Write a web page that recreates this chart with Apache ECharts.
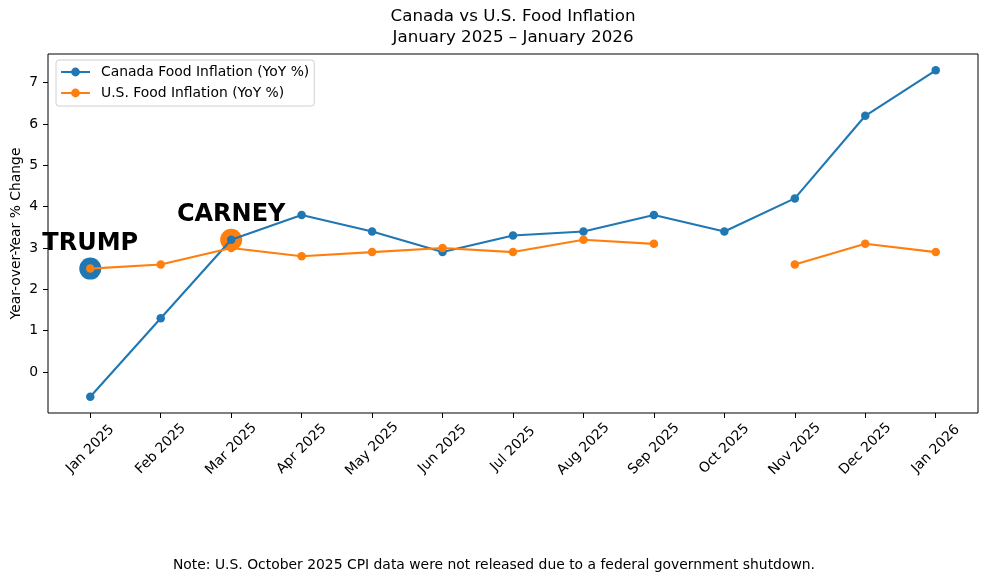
<!DOCTYPE html>
<html>
<head>
<meta charset="utf-8">
<title>Canada vs U.S. Food Inflation</title>
<script src="https://cdn.jsdelivr.net/npm/echarts@6/dist/echarts.min.js"></script>
<style>
  html, body { margin: 0; padding: 0; background: #fff; }
  #chart { width: 988px; height: 582px; }
</style>
</head>
<body>
<div id="chart"></div>
<script>
  /* ---------- 資料 ---------- */
  const MONTHS = ['Jan 2025', 'Feb 2025', 'Mar 2025', 'Apr 2025', 'May 2025', 'Jun 2025',
    'Jul 2025', 'Aug 2025', 'Sep 2025', 'Oct 2025', 'Nov 2025', 'Dec 2025', 'Jan 2026'];
  const CANADA = [-0.6, 1.3, 3.2, 3.8, 3.4, 2.9, 3.3, 3.4, 3.8, 3.4, 4.2, 6.2, 7.3];
  // 美國 2025 年 10 月資料因政府停擺未發布
  const US = [2.5, 2.6, 3.0, 2.8, 2.9, 3.0, 2.9, 3.2, 3.1, null, 2.6, 3.1, 2.9];
  const Y_TICKS = [0, 1, 2, 3, 4, 5, 6, 7];
  // 標註點：[月份索引, 數值, 文字]
  const TRUMP_MARK = [0, 2.5, 'TRUMP'];
  const CARNEY_MARK = [2, 3.2, 'CARNEY'];

  const BLUE = '#1f77b4';
  const ORANGE = '#ff7f0e';
  const FONT = 'DejaVu Sans';
  const FS = 13.9;

  function pairs(values) {
    return values.map(function (v, i) { return [i, v === null ? '-' : v]; });
  }

  function markSeries(mark, color) {
    return {
      type: 'scatter',
      z: 1,
      symbol: 'circle',
      symbolSize: 22,
      itemStyle: { color: color, opacity: 1 },
      label: {
        show: true,
        position: 'top',
        distance: 2,
        formatter: mark[2],
        color: '#000',
        fontFamily: FONT,
        fontWeight: 'bold',
        fontSize: 24
      },
      data: [[mark[0], mark[1]]]
    };
  }

  function lineSeries(name, values, color) {
    return {
      name: name,
      type: 'line',
      z: 2,
      symbol: 'circle',
      symbolSize: 8.5,
      showSymbol: true,
      lineStyle: { color: color, width: 2.1 },
      itemStyle: { color: color, borderWidth: 0, opacity: 1 },
      connectNulls: false,
      data: pairs(values)
    };
  }

  const chart = echarts.init(document.getElementById('chart'));
  chart.setOption({
    animation: false,
    backgroundColor: '#fff',
    textStyle: { fontFamily: FONT, color: '#000' },
    title: [
      {
        text: 'Canada vs U.S. Food Inflation\nJanuary 2025 – January 2026',
        left: 513,
        textAlign: 'center',
        top: 6,
        padding: 0,
        textStyle: { fontFamily: FONT, fontWeight: 'normal', fontSize: 16.7, lineHeight: 21, color: '#000' }
      },
      {
        text: 'Note: U.S. October 2025 CPI data were not released due to a federal government shutdown.',
        left: 'center',
        top: 558,
        padding: 0,
        textStyle: { fontFamily: FONT, fontWeight: 'normal', fontSize: FS, lineHeight: 14, color: '#000' }
      }
    ],
    legend: {
      orient: 'vertical',
      left: 56,
      top: 60,
      padding: [5, 5, 6, 4],
      itemGap: 7,
      itemWidth: 29,
      itemHeight: 11,
      backgroundColor: 'rgba(255,255,255,0.8)',
      borderColor: '#d0d0d0',
      borderWidth: 1,
      borderRadius: 3,
      textStyle: { fontFamily: FONT, fontSize: FS, color: '#000', padding: [0, 0, 0, 6] },
      data: ['Canada Food Inflation (YoY %)', 'U.S. Food Inflation (YoY %)']
    },
    grid: {
      left: 48,
      right: 10,
      top: 54,
      bottom: 169,
      outerBoundsMode: 'none',
      containLabel: false,
      show: true,
      borderColor: '#000',
      borderWidth: 1
    },
    xAxis: {
      type: 'value',
      min: -0.6,
      max: 12.6,
      splitLine: { show: false },
      axisLine: { show: false, onZero: false },
      axisTick: {
        show: true,
        length: 5,
        lineStyle: { color: '#000', width: 1 },
        customValues: MONTHS.map(function (m, i) { return i; })
      },
      axisLabel: {
        rotate: 45,
        align: 'center',
        verticalAlign: 'middle',
        margin: 36,
        fontFamily: FONT,
        fontSize: FS,
        color: '#000',
        customValues: MONTHS.map(function (m, i) { return i; }),
        formatter: function (v) { return MONTHS[Math.round(v)]; }
      }
    },
    yAxis: {
      type: 'value',
      min: -0.995,
      max: 7.695,
      name: 'Year-over-Year % Change',
      nameLocation: 'middle',
      nameGap: 25,
      nameMoveOverlap: false,
      nameTextStyle: { fontFamily: FONT, fontSize: FS, color: '#000' },
      splitLine: { show: false },
      axisLine: { show: false, onZero: false },
      axisTick: {
        show: true,
        length: 5,
        lineStyle: { color: '#000', width: 1 },
        customValues: Y_TICKS
      },
      axisLabel: {
        margin: 10,
        fontFamily: FONT,
        fontSize: FS,
        color: '#000',
        customValues: Y_TICKS
      }
    },
    series: [
      markSeries(TRUMP_MARK, BLUE),
      markSeries(CARNEY_MARK, ORANGE),
      lineSeries('Canada Food Inflation (YoY %)', CANADA, BLUE),
      lineSeries('U.S. Food Inflation (YoY %)', US, ORANGE)
    ]
  });
</script>
</body>
</html>
